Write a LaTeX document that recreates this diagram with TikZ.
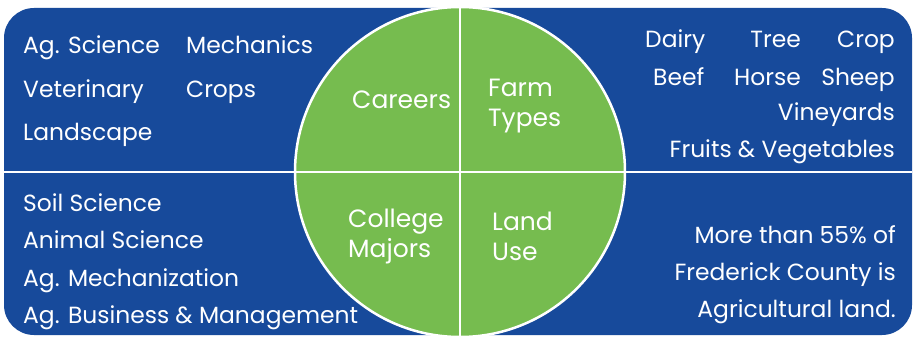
\documentclass[tikz,border=0pt]{standalone}
\usepackage{fontspec}
\setmainfont{Poppins}
\definecolor{farmblue}{RGB}{23, 74, 155}
\definecolor{farmgreen}{RGB}{118, 188, 79}
\usepackage{tikz}
\usetikzlibrary{positioning}

\begin{document}
\begin{tikzpicture}[x=1pt, y=-1pt,
  item/.style={text=white, inner sep=0pt, font=\fontsize{23.4}{28}\selectfont},
  hub/.style={text=white, inner sep=0pt, align=left, font=\fontsize{25}{30}\selectfont},
]
\useasboundingbox (0,0) rectangle (915,337);

% Panel and wheel
\fill[farmblue, rounded corners=30pt] (4,8) rectangle (912,335);
\node[circle, fill=farmgreen, draw=white, line width=2.5pt, minimum size=330pt, inner sep=0pt]
  (wheel) at (460,172) {};
\coordinate (left end) at (4,172);
\coordinate (right end) at (912,172);
\draw[white, line width=2.5pt] (left end) -- (right end);
\draw[white, line width=2.5pt] (wheel.north) -- (wheel.south);

% Wheel labels (base = last line)
\node[hub, anchor=base west] (careers) at (352,108) {Careers};
\node[hub, anchor=base west] (farm) at (488,126) {Farm\\Types};
\node[hub, anchor=base west] (college) at (348,257) {College\\Majors};
\node[hub, anchor=base west] (land) at (492,260) {Land\\Use};

% Careers
\node[item, anchor=base west] (agsci) at (23,54) {Ag. Science};
\node[item, anchor=base west] (mech) at (186,54) {Mechanics};
\node[item, anchor=base west] (vet) at (23,97) {Veterinary};
\node[item, anchor=base west] (crops) at (186,97) {Crops};
\node[item, anchor=base west] (landsc) at (23,140) {Landscape};

% Farm types
\node[item, anchor=base west] (dairy) at (645,48) {Dairy};
\node[item, anchor=base east] (tree) at (801,48) {Tree};
\node[item, anchor=base east] (crop) at (895,48) {Crop};
\node[item, anchor=base west] (beef) at (653,85) {Beef};
\node[item, anchor=base east] (horse) at (801,85) {Horse};
\node[item, anchor=base east] (sheep) at (895,85) {Sheep};
\node[item, anchor=base east] (vine) at (895,120) {Vineyards};
\node[item, anchor=base east] (fruit) at (895,157) {Fruits \& Vegetables};

% College majors
\node[item, anchor=base west] (soil) at (23,211) {Soil Science};
\node[item, anchor=base west] (animal) at (23,248) {Animal Science};
\node[item, anchor=base west] (agmech) at (23,286) {Ag. Mechanization};
\node[item, anchor=base west] (agbus) at (23,323) {Ag. Business \& Management};

% Land use
\node[item, anchor=base east] (more) at (896,243) {More than 55\% of};
\node[item, anchor=base east] (county) at (896,280) {Frederick County is};
\node[item, anchor=base east] (agland) at (896,317) {Agricultural land.};
\end{tikzpicture}
\end{document}
